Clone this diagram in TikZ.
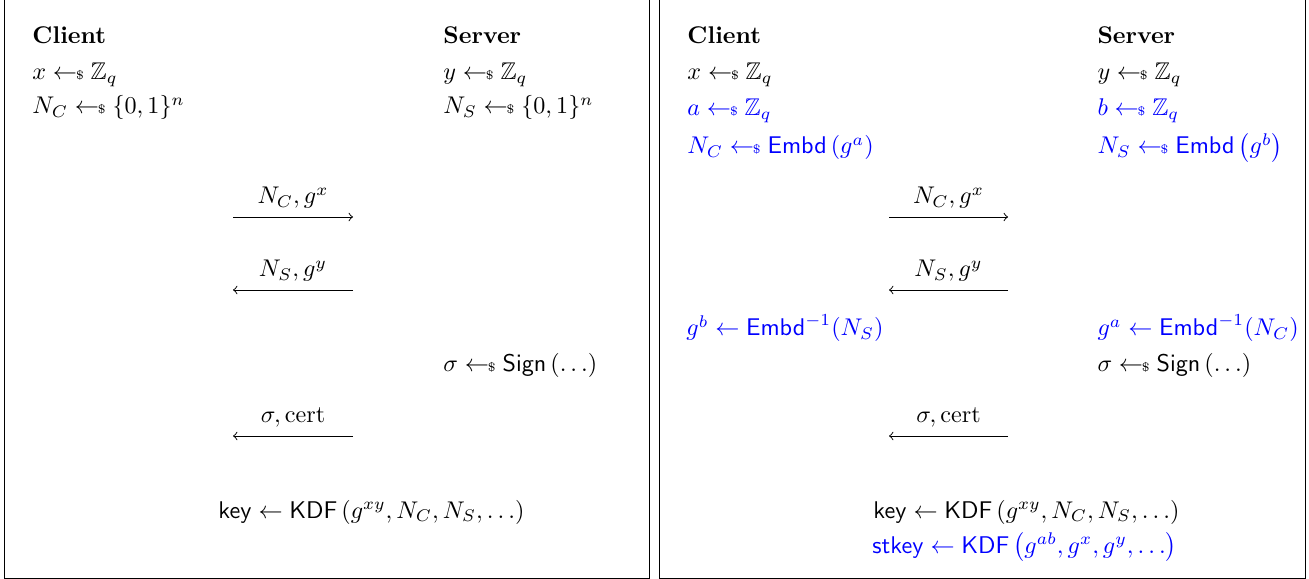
\documentclass[tikz,border=0pt]{standalone}
\usepackage{amsmath,amssymb}

\newcommand{\samplefrom}{\mathrel{\leftarrow\!\!\mbox{\tiny\$}}}

\begin{document}
\begin{tikzpicture}[x=0.4141pt, y=-0.4141pt,
    comp/.style={anchor=base west, inner sep=0pt},
    party/.style={comp, font=\bfseries},
    added/.style={comp, text=blue}]
    \useasboundingbox (0,0) rectangle (1309,579);

    % frames
    \draw [line width=.4pt] (4,-10) rectangle (649,578);
    \draw [line width=.4pt] (659,-10) rectangle (1305,578);

    % plain exchange
    \node [party] (cl) at (32,44) {Client};
    \node [comp] (clx) at (32,80) {$x \samplefrom \mathbb{Z}_q$};
    \node [comp] (clnc) at (32,114) {$N_C \samplefrom \{0,1\}^n$};

    \node [party] (sv) at (443,44) {Server};
    \node [comp] (svy) at (443,80) {$y \samplefrom \mathbb{Z}_q$};
    \node [comp] (svns) at (443,114) {$N_S \samplefrom \{0,1\}^n$};

    \coordinate (m1l) at (233,217);
    \coordinate (m1r) at (353,217);
    \draw [->] (m1l) -- (m1r) node [midway, above] (m1) {$N_C, g^x$};

    \coordinate (m2l) at (233,290);
    \coordinate (m2r) at (353,290);
    \draw [->] (m2r) -- (m2l) node [midway, above] (m2) {$N_S, g^y$};

    \node [comp] (svsig) at (443,372) {$\sigma \samplefrom \mathsf{Sign}\left(\ldots\right)$};

    \coordinate (m3l) at (233,436);
    \coordinate (m3r) at (353,436);
    \draw [->] (m3r) -- (m3l) node [midway, above] (m3) {$\sigma, \mathrm{cert}$};

    \node [comp] (key) at (218,518) {$\mathsf{key} \gets \mathsf{KDF}\left(g^{xy}, N_C, N_S, \ldots\right)$};

    % exchange with embedding
    \node [party] (cl') at (687,44) {Client};
    \node [comp] (clx') at (687,80) {$x \samplefrom \mathbb{Z}_q$};
    \node [added] (cla') at (687,116) {$a \samplefrom \mathbb{Z}_q$};
    \node [added] (clnc') at (687,154) {$N_C \samplefrom \mathsf{Embd}\left(g^a\right)$};

    \node [party] (sv') at (1097,44) {Server};
    \node [comp] (svy') at (1097,80) {$y \samplefrom \mathbb{Z}_q$};
    \node [added] (svb') at (1097,116) {$b \samplefrom \mathbb{Z}_q$};
    \node [added] (svns') at (1097,154) {$N_S \samplefrom \mathsf{Embd}\left(g^b\right)$};

    \coordinate (n1l) at (889,217);
    \coordinate (n1r) at (1008,217);
    \draw [->] (n1l) -- (n1r) node [midway, above] (n1) {$N_C, g^x$};

    \coordinate (n2l) at (889,290);
    \coordinate (n2r) at (1008,290);
    \draw [->] (n2r) -- (n2l) node [midway, above] (n2) {$N_S, g^y$};

    \node [added] (clgb') at (686,336) {$g^b \gets \mathsf{Embd}^{-1}(N_S)$};
    \node [added] (svga') at (1097,336) {$g^a \gets \mathsf{Embd}^{-1}(N_C)$};
    \node [comp] (svsig') at (1097,372) {$\sigma \samplefrom \mathsf{Sign}\left(\ldots\right)$};

    \coordinate (n3l) at (889,436);
    \coordinate (n3r) at (1008,436);
    \draw [->] (n3r) -- (n3l) node [midway, above] (n3) {$\sigma, \mathrm{cert}$};

    \node [comp] (key') at (873,518) {$\mathsf{key} \gets \mathsf{KDF}\left(g^{xy}, N_C, N_S, \ldots\right)$};
    \node [added] (stkey') at (872,553) {$\mathsf{stkey} \gets \mathsf{KDF}\left(g^{ab}, g^x, g^y, \ldots\right)$};
\end{tikzpicture}
\end{document}
